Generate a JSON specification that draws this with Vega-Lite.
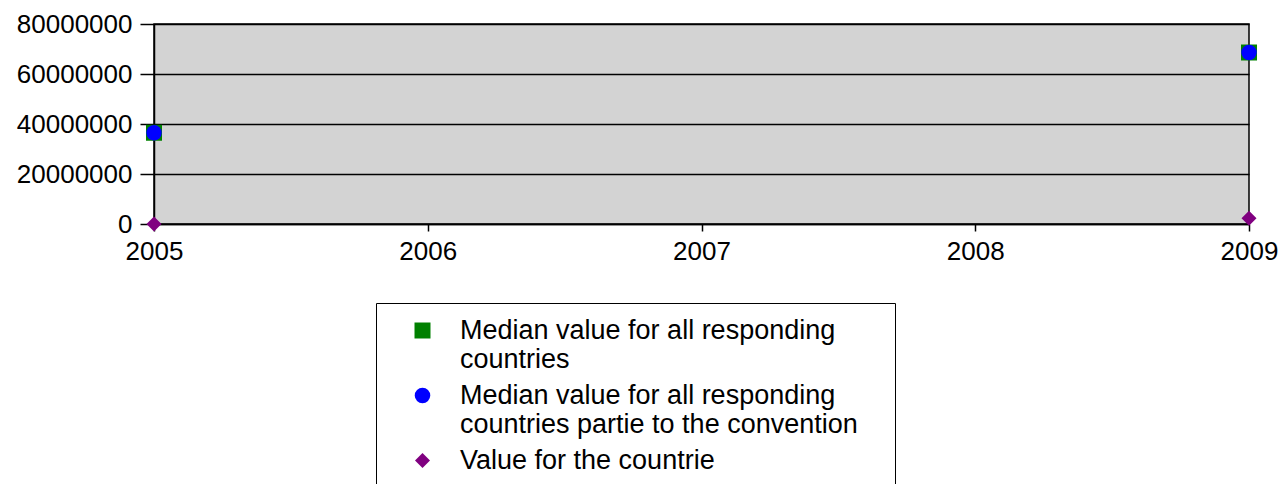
{
  "$schema": "https://vega.github.io/schema/vega-lite/v6.json",
  "width": 1095,
  "height": 200,
  "autosize": "none",
  "padding": {"left": 154, "top": 24, "right": 32, "bottom": 260},
  "background": "white",
  "config": {
    "font": "Liberation Sans",
    "view": {"fill": "#d3d3d3", "stroke": "black", "strokeWidth": 1.5},
    "axis": {
      "labelFont": "Liberation Sans",
      "labelFontSize": 26,
      "labelColor": "black",
      "domainColor": "black",
      "domainWidth": 1.5,
      "tickColor": "black",
      "tickWidth": 1.5,
      "title": null
    }
  },
  "data": {
    "values": [
      {"year": 2005, "series": "Median value for all responding countries", "value": 36500000},
      {"year": 2009, "series": "Median value for all responding countries", "value": 68600000},
      {"year": 2005, "series": "Median value for all responding countries partie to the convention", "value": 36500000},
      {"year": 2009, "series": "Median value for all responding countries partie to the convention", "value": 68600000},
      {"year": 2005, "series": "Value for the countrie", "value": 0},
      {"year": 2009, "series": "Value for the countrie", "value": 2300000}
    ]
  },
  "mark": {"type": "point", "filled": true, "opacity": 1, "strokeWidth": 0},
  "encoding": {
    "x": {
      "field": "year",
      "type": "quantitative",
      "scale": {"domain": [2005, 2009], "nice": false, "zero": false},
      "axis": {
        "values": [2005, 2006, 2007, 2008, 2009],
        "format": "d",
        "grid": false,
        "labelFlush": false,
        "tickSize": 7,
        "labelPadding": 7
      }
    },
    "y": {
      "field": "value",
      "type": "quantitative",
      "scale": {"domain": [0, 80000000], "nice": false},
      "axis": {
        "values": [0, 20000000, 40000000, 60000000, 80000000],
        "format": "d",
        "grid": true,
        "gridColor": "black",
        "gridWidth": 1.5,
        "gridOpacity": 1,
        "tickSize": 14,
        "labelPadding": 8
      }
    },
    "color": {
      "field": "series",
      "type": "nominal",
      "scale": {
        "domain": ["Median value for all responding countries", "Median value for all responding countries partie to the convention", "Value for the countrie"],
        "range": ["#008000", "#0000ff", "#800080"]
      },
      "legend": {
        "orient": "none",
        "legendX": 222,
        "legendY": 279,
        "title": " ",
        "titleOrient": "right",
        "titlePadding": 23,
        "titleFontSize": 10,
        "labelFont": "Liberation Sans",
        "labelFontSize": 27,
        "labelColor": "black",
        "labelLimit": 1000,
        "labelOffset": 24,
        "labelExpr": "datum.label == 'Median value for all responding countries' ? ['Median value for all responding', 'countries'] : datum.label == 'Median value for all responding countries partie to the convention' ? ['Median value for all responding', 'countries partie to the convention'] : datum.label",
        "strokeColor": "black",
        "padding": 14,
        "symbolOffset": 19,
        "rowPadding": 8,
        "symbolStrokeWidth": 0,
        "symbolOpacity": 1
      }
    },
    "shape": {
      "field": "series",
      "type": "nominal",
      "scale": {
        "domain": ["Median value for all responding countries", "Median value for all responding countries partie to the convention", "Value for the countrie"],
        "range": ["square", "circle", "diamond"]
      }
    },
    "size": {
      "field": "series",
      "type": "nominal",
      "scale": {
        "domain": ["Median value for all responding countries", "Median value for all responding countries partie to the convention", "Value for the countrie"],
        "range": [256, 225, 210]
      }
    }
  }
}
